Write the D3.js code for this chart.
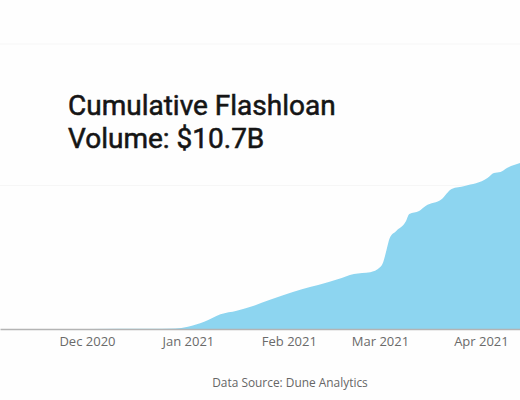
<!DOCTYPE html>
<html>
<head>
<meta charset="utf-8">
<script src="https://cdn.jsdelivr.net/npm/d3@7"></script>
<style>
html,body{margin:0;padding:0;background:#fefefe;overflow:hidden}
svg{display:block}
</style>
</head>
<body>
<svg id="c" width="520" height="400"></svg>
<script>
const dates = ["2020-11-05","2020-12-01","2020-12-20","2020-12-28","2021-01-01","2021-01-06","2021-01-11","2021-01-16","2021-01-21","2021-01-26","2021-01-30","2021-02-05","2021-02-10","2021-02-16","2021-02-21","2021-02-26","2021-03-01","2021-03-02","2021-03-03","2021-03-04","2021-03-06","2021-03-09","2021-03-10","2021-03-13","2021-03-15","2021-03-20","2021-03-23","2021-03-27","2021-04-03","2021-04-05","2021-04-07","2021-04-09","2021-04-13"];
const cumulativeVolume = [0,0,0.01,0.04,0.16,0.51,1.03,1.28,1.61,2.03,2.34,2.78,3.08,3.48,3.85,3.97,4.31,4.69,5.52,6.36,6.85,7.55,8.04,8.25,8.6,9.09,9.79,10,10.56,10.91,10.98,11.26,11.61];
const gridValues = [10,19.9];
const tickDates = ["2020-12-01","2021-01-01","2021-02-01","2021-03-01","2021-04-01"];
const titleLines = ["Cumulative Flashloan","Volume: $10.7B"];
const sourceText = "Data Source: Dune Analytics";

const parse = d3.utcParse("%Y-%m-%d");
const svg = d3.select("#c");
const x = d3.scaleUtc().domain([new Date(Date.UTC(2020,10,4,7)), new Date(Date.UTC(2021,3,13))]).range([0,520]);
const y = d3.scaleLinear().domain([0,20]).range([329,43]);

svg.append("g").selectAll("line").data(gridValues).join("line")
  .attr("x1",0).attr("x2",520)
  .attr("y1",d=>y(d)-0.5).attr("y2",d=>y(d)-0.5)
  .attr("stroke","#f6f6f6").attr("stroke-width",1);

const area = d3.area().curve(d3.curveMonotoneX).x((d,i)=>x(parse(dates[i]))).y0(y(0)).y1(d=>y(d));
svg.append("path").datum(cumulativeVolume).attr("d",area).attr("fill","#8dd5f0");

const ax = d3.axisBottom(x).tickValues(tickDates.map(parse)).tickSize(0).tickPadding(8)
  .tickFormat(d3.utcFormat("%b %Y"));
const g = svg.append("g").attr("transform",`translate(0,${y(0)})`).call(ax);
g.select(".domain").attr("stroke","#b4b4b4").attr("stroke-width",1.5);
g.selectAll("text").attr("font-family","'Open Sans',sans-serif").attr("font-size",13).attr("fill","#6a6a6a");

svg.append("g").selectAll("text").data(titleLines).join("text")
  .attr("x",68).attr("y",(d,i)=>115+i*33)
  .attr("font-family","Roboto,sans-serif").attr("font-size",28).attr("font-weight",400)
  .attr("fill","#151515").attr("stroke","#151515").attr("stroke-width",0.55).text(d=>d);

svg.append("text").attr("x",290).attr("y",387).attr("text-anchor","middle")
  .attr("font-family","'Open Sans',sans-serif").attr("font-size",11.9).attr("fill","#666").text(sourceText);
</script>
</body>
</html>
